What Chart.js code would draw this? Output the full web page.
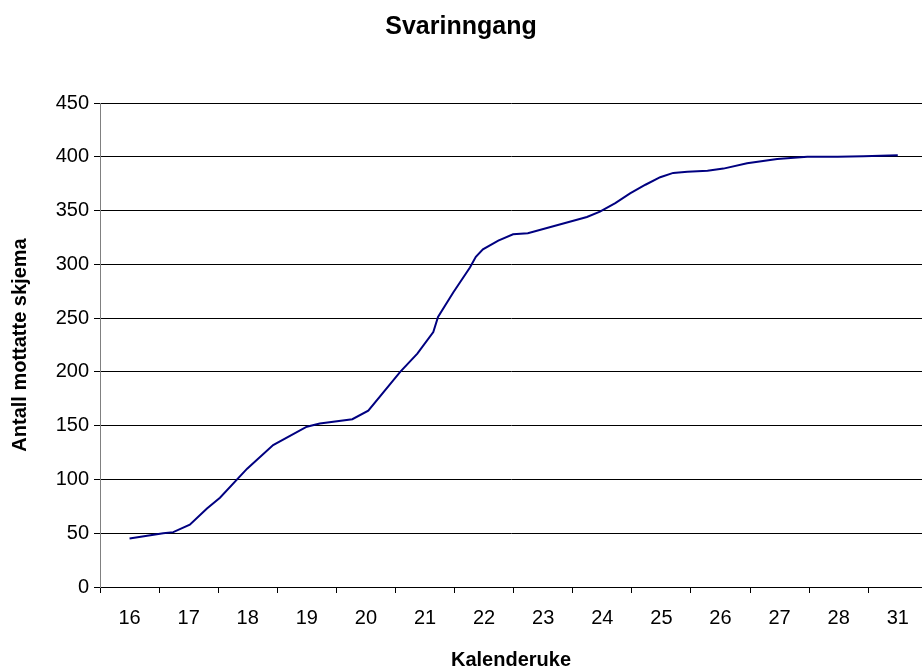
<!DOCTYPE html>
<html>
<head>
<meta charset="utf-8">
<script src="https://cdn.jsdelivr.net/npm/chart.js@4/dist/chart.umd.min.js"></script>
<style>
html, body { margin: 0; padding: 0; background: #fff; overflow: hidden; }
</style>
</head>
<body>
<canvas id="svarinngang" width="922" height="668"></canvas>
<script>
// week labels on the category axis (note the jump from 28 to 31)
var weekLabels = ['16', '17', '18', '19', '20', '21', '22', '23', '24', '25', '26', '27', '28', '31'];

// position of each reading along the week axis (0 = week 16, 13 = week 31)
var weekPos = [0, 0.57, 0.74, 1.02, 1.31, 1.53, 1.99, 2.43, 3.0, 3.22, 3.77, 4.04, 4.58, 4.87,
	5.14, 5.22, 5.48, 5.76, 5.86, 5.98, 6.24, 6.49, 6.74, 7.74, 7.96, 8.22, 8.47, 8.73,
	8.98, 9.2, 9.44, 9.78, 10.05, 10.45, 10.96, 11.47, 11.98, 12.42, 13];

// cumulative number of received forms
var received = [45, 50, 51, 58, 73, 83, 110, 132, 149, 152, 156, 164, 200, 217,
	237, 251, 274, 297, 307, 314, 322, 328, 329, 344, 349, 357, 366, 374,
	381, 385, 386, 387, 389, 394, 398, 400, 400, 400.5, 401.5];

var fontFamily = '"Liberation Sans", Arial, sans-serif';

var points = weekPos.map((p, i) => ({ x: p, y: received[i] }));

const ctx = document.getElementById('svarinngang').getContext('2d');
const svarChart = new Chart(ctx, {
	type: 'line',
	data: {
		datasets: [{
			label: 'Svarinngang',
			data: points,
			borderColor: '#000080',
			borderWidth: 2,
			pointRadius: 0,
			tension: 0,
			fill: false
		}]
	},
	options: {
		responsive: false,
		animation: false,
		devicePixelRatio: 1,
		layout: { padding: 0 },
		plugins: {
			legend: { display: false },
			tooltip: { enabled: false },
			title: {
				display: true,
				text: 'Svarinngang',
				color: '#000',
				font: { family: fontFamily, size: 25, weight: 'bold' },
				padding: { top: 12, bottom: 61 }
			}
		},
		scales: {
			x: {
				type: 'linear',
				min: -0.5,
				max: 13.41,
				afterBuildTicks: (scale) => {
					scale.ticks = weekLabels.map((_, i) => ({ value: i }));
				},
				afterFit: (scale) => { scale.height = 81; },
				ticks: {
					autoSkip: false,
					maxRotation: 0,
					color: '#000',
					padding: 13,
					font: { family: fontFamily, size: 20 },
					callback: (value) => weekLabels[value]
				},
				grid: {
					offset: true,
					drawOnChartArea: false,
					drawTicks: true,
					tickLength: 6,
					color: '#000'
				},
				border: { color: '#000' },
				title: {
					display: true,
					text: 'Kalenderuke',
					color: '#000',
					font: { family: fontFamily, size: 20, weight: 'bold' },
					padding: { top: 0, bottom: -4 }
				}
			},
			y: {
				min: 0,
				max: 450,
				afterFit: (scale) => { scale.width = 100; },
				ticks: {
					stepSize: 50,
					color: '#000',
					padding: 5,
					font: { family: fontFamily, size: 20 }
				},
				grid: {
					color: '#000',
					lineWidth: 1,
					drawTicks: true,
					tickLength: 6
				},
				border: { color: '#808080' },
				title: {
					display: true,
					text: 'Antall mottatte skjema',
					color: '#000',
					font: { family: fontFamily, size: 20, weight: 'bold' },
					padding: { top: 8, bottom: 0 }
				}
			}
		}
	}
});
</script>
</body>
</html>
